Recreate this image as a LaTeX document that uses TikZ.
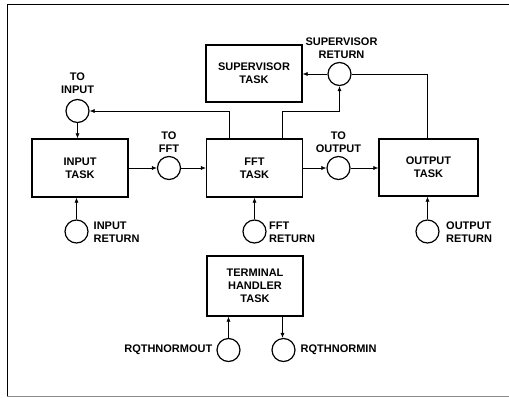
\documentclass[tikz,border=0pt]{standalone}
\usepackage{fontspec}
\setmainfont{Liberation Sans}
\usetikzlibrary{arrows.meta,calc}

\begin{document}
\begin{tikzpicture}[x=1pt, y=-1pt,
    task/.style = {draw, line width=1.2pt, minimum width=96pt, minimum height=58pt, inner sep=0pt, align=center, font=\fontsize{11}{13}\selectfont\bfseries},
    port/.style = {draw, circle, line width=1.2pt, minimum size=23pt, inner sep=0pt},
    lbl/.style = {align=center, inner sep=0pt, font=\fontsize{11}{13}\selectfont\bfseries},
    flow/.style = {line width=0.6pt, -{Latex[length=5pt,width=4pt]}}]
    \useasboundingbox (0,0) rectangle (509,397);
    % Frame
    \draw[line width=1pt] (509,4.5) -- (7,4.5) -- (7,396);
    \draw[line width=0.8pt, black!45] (7,396) -- (509,396);

    % Draw tasks
    \node[task] (input) at (80,168) {INPUT\\TASK};
    \node[task] (fft) at (254.5,168) {FFT\\TASK};
    \node[task, minimum width=99pt, minimum height=57pt] (output) at (428.5,167.5) {OUTPUT\\TASK};
    \node[task, minimum height=57pt] (super) at (254,73.5) {SUPERVISOR\\TASK};
    \node[task, minimum height=60pt] (term) at (255,286) {TERMINAL\\HANDLER\\TASK};

    % Draw mailboxes
    \node[port] (toinput) at (77.5,111) {};
    \node[port] (tofft) at (169,168) {};
    \node[port] (tooutput) at (338.5,168) {};
    \node[port] (supret) at (339.5,74) {};
    \node[port] (inret) at (76.5,231.5) {};
    \node[port] (fftret) at (254.5,231.5) {};
    \node[port] (outret) at (427.5,231.5) {};
    \node[port] (rqout) at (228.5,350) {};
    \node[port] (rqin) at (283.5,350) {};

    % Mailbox labels
    \node[lbl] (toinputlbl) at (77.5,83.5) {TO\\INPUT};
    \node[lbl] (tofftlbl) at (169,142) {TO\\FFT};
    \node[lbl] (tooutputlbl) at (338.5,142) {TO\\OUTPUT};
    \node[lbl] (supretlbl) at (341.5,48) {SUPERVISOR\\RETURN};
    \node[lbl, anchor=west, align=left] (inretlbl) at (93.5,232) {INPUT\\RETURN};
    \node[lbl, anchor=west, align=left] (fftretlbl) at (269,232) {FFT\\RETURN};
    \node[lbl, anchor=west, align=left] (outretlbl) at (446,232) {OUTPUT\\RETURN};
    \node[lbl, anchor=east] (rqoutlbl) at (212.5,349.5) {RQTHNORMOUT};
    \node[lbl, anchor=west] (rqinlbl) at (300.5,349.5) {RQTHNORMIN};

    % Main flow
    \draw[flow] (toinput.south) -- (toinput.south |- input.north);
    \draw[flow] (input.east |- tofft) -- (tofft.west);
    \draw[flow] (tofft.east) -- (tofft.east -| fft.west);
    \draw[flow] (fft.east |- tooutput) -- (tooutput.west);
    \draw[flow] (tooutput.east) -- (tooutput.east -| output.west);

    % Returns to supervisor and input
    \coordinate (bend) at (supret |- toinput);
    \draw[flow] ([xshift=-25.5pt]fft.north) |- (toinput.east);
    \draw[flow] ([xshift=27.5pt]fft.north) |- (bend) -- (supret.south);
    \draw[line width=0.6pt] ([xshift=-1.5pt]output.north) |- (supret.east);
    \draw[flow] (supret.west) -- (supret.west -| super.east);

    % Return mailboxes
    \draw[flow] (inret.north) -- (inret.north |- input.south);
    \draw[flow] (fftret.north) -- (fftret.north |- fft.south);
    \draw[flow] (outret.north) -- (outret.north |- output.south);

    % Terminal handler
    \draw[flow] (rqout.north) -- (rqout.north |- term.south);
    \draw[flow] ([xshift=-1pt]rqin.north |- term.south) -- ([xshift=-1pt]rqin.north);
\end{tikzpicture}
\end{document}
